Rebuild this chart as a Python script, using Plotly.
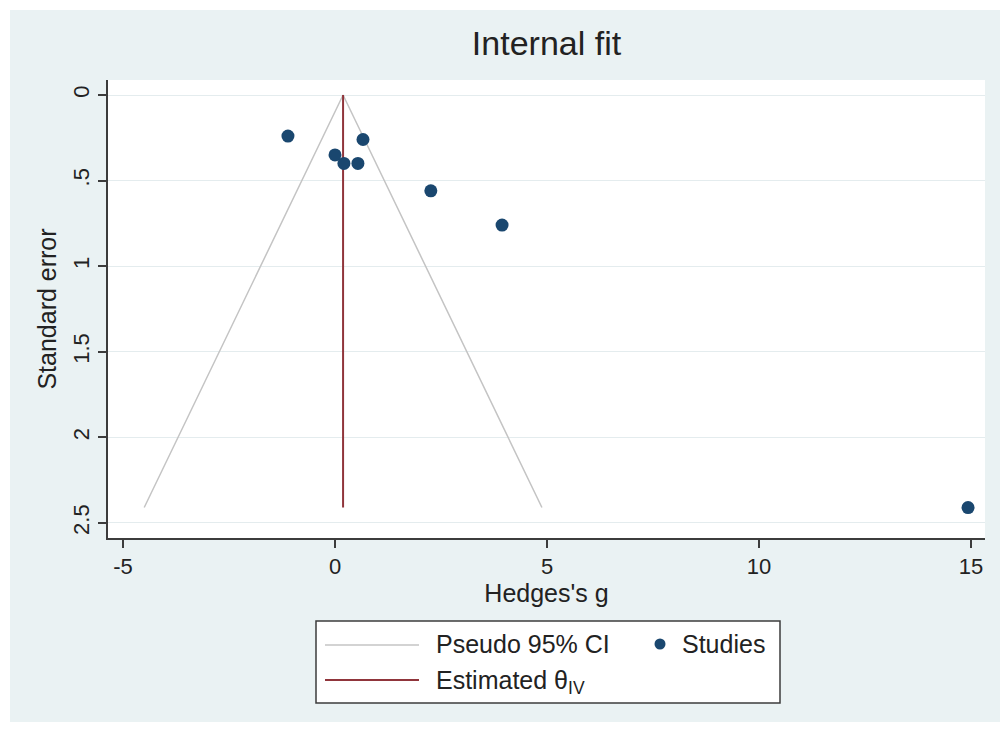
import plotly.graph_objects as go

# Study effect sizes (Hedges's g) and their standard errors
hedges_g = [-1.11, 0.66, 0.00, 0.21, 0.54, 2.26, 3.94, 14.93]
std_err = [0.24, 0.26, 0.35, 0.40, 0.40, 0.56, 0.76, 2.41]

# Pseudo 95% confidence limits (left limb, apex, right limb)
ci_g = [-4.50, 0.19, 4.88]
ci_se = [2.41, 0.00, 2.41]

# Inverse-variance pooled estimate
theta_iv = 0.19
theta_se = [0.00, 2.41]

x_ticks = [-5, 0, 5, 10, 15]
x_tick_text = ["-5", "0", "5", "10", "15"]
y_ticks = [0, 0.5, 1, 1.5, 2, 2.5]
y_tick_text = ["0", ".5", "1", "1.5", "2", "2.5"]

NAVY = "#1a476f"
MAROON = "#90353b"
CI_GRAY = "#c4c4c4"
REGION = "#eaf2f3"
AXIS = "#3c3c3c"
TEXT = "#222222"
FONT = "Liberation Sans, Arial, sans-serif"

W, H = 1000, 729
ML, MR, MT, MB = 108, 15, 80, 191
PW, PH = W - ML - MR, H - MT - MB


def px(x):
    return (x - ML) / PW


def py(y):
    return (H - MB - y) / PH


fig = go.Figure()

fig.add_trace(go.Scatter(
    x=ci_g, y=ci_se, mode="lines",
    line=dict(color=CI_GRAY, width=1.5),
    name="Pseudo 95% CI", showlegend=False,
))
fig.add_trace(go.Scatter(
    x=[theta_iv, theta_iv], y=theta_se, mode="lines",
    line=dict(color=MAROON, width=2),
    name="Estimated θIV", showlegend=False,
))
fig.add_trace(go.Scatter(
    x=hedges_g, y=std_err, mode="markers",
    marker=dict(color=NAVY, size=13),
    name="Studies", showlegend=False,
))

shapes = [
    # graph region and plot region backgrounds
    dict(type="rect", xref="paper", yref="paper", layer="below",
         x0=px(10), x1=px(1000), y0=py(722), y1=py(10),
         fillcolor=REGION, line=dict(width=0)),
    dict(type="rect", xref="paper", yref="paper", layer="below",
         x0=0, x1=1, y0=0, y1=1,
         fillcolor="white", line=dict(width=0)),
    # legend box
    dict(type="rect", xref="paper", yref="paper",
         x0=px(316), x1=px(780), y0=py(703), y1=py(621),
         fillcolor="white", line=dict(color=AXIS, width=1.5)),
    # legend keys
    dict(type="line", xref="paper", yref="paper",
         x0=px(325), x1=px(419), y0=py(645), y1=py(645),
         line=dict(color=CI_GRAY, width=1.5)),
    dict(type="line", xref="paper", yref="paper",
         x0=px(325), x1=px(419), y0=py(680), y1=py(680),
         line=dict(color=MAROON, width=2)),
    dict(type="circle", xref="paper", yref="paper",
         x0=px(654.5), x1=px(665.5), y0=py(649.5), y1=py(638.5),
         fillcolor=NAVY, line=dict(width=0)),
]

legend_font = dict(family=FONT, size=25, color=TEXT)
annotations = [
    dict(text="Pseudo 95% CI", xref="paper", yref="paper",
         x=px(434), y=py(644), xanchor="left", yanchor="middle",
         showarrow=False, font=legend_font),
    dict(text="Studies", xref="paper", yref="paper",
         x=px(680), y=py(644), xanchor="left", yanchor="middle",
         showarrow=False, font=legend_font),
    dict(text="Estimated θ<sub>IV</sub>", xref="paper", yref="paper",
         x=px(434), y=py(682), xanchor="left", yanchor="middle",
         showarrow=False, font=legend_font),
]

fig.update_layout(
    width=W, height=H,
    margin=dict(l=ML, r=MR, t=MT, b=MB),
    paper_bgcolor="white",
    plot_bgcolor="white",
    font=dict(family=FONT, size=22, color=TEXT),
    title=dict(text="Internal fit", x=0.5, xref="paper", xanchor="center",
               y=1 - 43 / H, yanchor="middle",
               font=dict(family=FONT, size=34, color=TEXT)),
    showlegend=False,
    shapes=shapes,
    annotations=annotations,
)

fig.update_xaxes(
    range=[-5.354, 15.33],
    tickvals=x_ticks, ticktext=x_tick_text,
    ticks="outside", ticklen=8, tickwidth=1.5, tickcolor=AXIS,
    showline=True, linecolor=AXIS, linewidth=1.5,
    showgrid=False, zeroline=False,
    tickfont=dict(size=22),
    title=dict(text="Hedges's g", font=dict(size=25), standoff=4),
)

fig.update_yaxes(
    range=[2.588, -0.0876],
    tickvals=y_ticks, ticktext=y_tick_text,
    tickangle=-90,
    ticks="outside", ticklen=8, tickwidth=1.5, tickcolor=AXIS,
    showline=True, linecolor=AXIS, linewidth=1.5,
    showgrid=True, gridcolor="#e4ecee", gridwidth=1.2,
    zeroline=False,
    tickfont=dict(size=22),
    title=dict(text="Standard error", font=dict(size=25), standoff=6),
)

fig.write_html("out.html")
